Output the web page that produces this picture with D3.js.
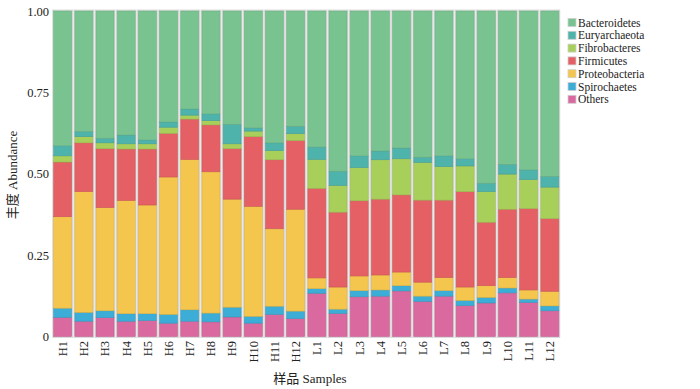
<!DOCTYPE html>
<html>
<head>
<meta charset="utf-8">
<script src="https://cdn.jsdelivr.net/npm/d3@7"></script>
<style>
  body { margin: 0; background: #fff; }
  text { font-family: "Liberation Serif", "Noto Sans CJK SC", serif; fill: #222; }
</style>
</head>
<body>
<script>

// --------------------------------------------------
// Data
// --------------------------------------------------

var samples = ['H1','H2','H3','H4','H5','H6','H7','H8','H9','H10','H11','H12',
               'L1','L2','L3','L4','L5','L6','L7','L8','L9','L10','L11','L12'];

var phyla = ['Bacteroidetes','Euryarchaeota','Fibrobacteres','Firmicutes','Proteobacteria','Spirochaetes','Others'];

var bacteroidetes  = [.414,.370,.391,.381,.396,.341,.301,.316,.348,.359,.405,.354, .418,.492,.445,.430,.421,.449,.445,.454,.529,.471,.488,.508];
var euryarchaeota  = [.031,.016,.014,.027,.012,.016,.019,.021,.060,.010,.024,.023, .038,.044,.036,.027,.033,.016,.033,.022,.026,.030,.030,.033];
var fibrobacteres  = [.019,.019,.018,.016,.016,.019,.012,.013,.015,.017,.028,.021, .089,.082,.102,.121,.111,.116,.103,.079,.094,.108,.089,.097];
var firmicutes     = [.168,.150,.181,.158,.172,.134,.124,.144,.155,.214,.212,.211, .275,.230,.231,.233,.237,.252,.238,.293,.195,.210,.250,.223];
var proteobacteria = [.281,.371,.317,.348,.334,.422,.462,.434,.332,.338,.238,.313, .033,.068,.045,.046,.042,.043,.040,.041,.036,.032,.028,.045];
var spirochaetes   = [.028,.027,.021,.023,.021,.027,.035,.027,.030,.021,.025,.023, .014,.013,.019,.019,.016,.016,.017,.016,.017,.015,.010,.015];
var others         = [.059,.047,.058,.047,.049,.041,.047,.045,.060,.041,.068,.055, .133,.071,.122,.124,.140,.108,.124,.095,.103,.134,.105,.079];

var yTicks = [0, 0.25, 0.5, 0.75, 1];

var colors = ['#79c391','#4db3ab','#a9cf5b','#e46064','#f4c64e','#3badd6','#d9699f'];

// --------------------------------------------------
// Chart
// --------------------------------------------------

var series = [bacteroidetes, euryarchaeota, fibrobacteres, firmicutes, proteobacteria, spirochaetes, others];

var rows = samples.map((s, i) => {
    let r = { sample: s };
    phyla.forEach((p, j) => r[p] = series[j][i]);
    return r;
});

// stack from the bottom: Others first, Bacteroidetes last
var stack = d3.stack().keys(phyla.slice().reverse());
var layers = stack(rows);

var svg = d3.select('body').append('svg')
    .attr('width', 700)
    .attr('height', 389);

var x = d3.scaleBand()
    .domain(samples)
    .range([50.5, 562])
    .paddingInner(0.15)
    .paddingOuter(0.15);

var y = d3.scaleLinear()
    .domain([0, 1])
    .range([336.5, 11]);

var color = d3.scaleOrdinal().domain(phyla).range(colors);

// light grey frame round each bar
svg.append('g').selectAll('rect')
    .data(samples)
    .enter().append('rect')
    .attr('x', d => x(d) - 0.8)
    .attr('y', y(1) - 0.8)
    .attr('width', x.bandwidth() + 1.6)
    .attr('height', y(0) - y(1) + 1.6)
    .attr('fill', 'none')
    .attr('stroke', '#d6d6d6')
    .attr('stroke-width', 1.2);

svg.append('g').selectAll('g')
    .data(layers)
    .enter().append('g')
    .attr('fill', d => color(d.key))
    .attr('stroke', d => d3.color(color(d.key)).darker(0.35))
    .attr('stroke-width', 0.6)
    .selectAll('rect')
    .data(d => d)
    .enter().append('rect')
    .attr('x', d => x(d.data.sample))
    .attr('y', d => y(d[1]))
    .attr('width', x.bandwidth())
    .attr('height', d => y(d[0]) - y(d[1]));

// y axis
var yAxis = svg.append('g')
    .attr('transform', 'translate(51,0)')
    .call(d3.axisLeft(y).tickValues(yTicks).tickSize(0).tickPadding(2)
        .tickFormat(d => d === 0 ? '0' : d3.format('.2f')(d)));
yAxis.select('.domain').remove();
yAxis.selectAll('text')
    .style('font-family', '"Liberation Serif", serif')
    .style('font-size', '12.5px')
    .attr('fill', '#222');

// x axis
var xAxis = svg.append('g')
    .attr('transform', 'translate(0,' + 339 + ')')
    .call(d3.axisBottom(x).tickSize(0).tickPadding(0));
xAxis.select('.domain').remove();
xAxis.selectAll('text')
    .style('font-family', '"Liberation Serif", serif')
    .style('font-size', '12.5px')
    .attr('fill', '#222')
    .style('text-anchor', 'end')
    .attr('dx', '-2')
    .attr('dy', '0.35em')
    .attr('transform', 'rotate(-90)');

// axis titles
svg.append('text')
    .attr('transform', 'translate(17,175) rotate(-90)')
    .attr('text-anchor', 'middle')
    .style('font-size', '13px')
    .text('丰度  Abundance');

svg.append('text')
    .attr('x', 310)
    .attr('y', 383)
    .attr('text-anchor', 'middle')
    .style('font-size', '13px')
    .text('样品  Samples');

// legend
var legend = svg.append('g')
    .attr('transform', 'translate(568,18.5)');

var item = legend.selectAll('g')
    .data(phyla)
    .enter().append('g')
    .attr('transform', (d, i) => 'translate(0,' + (i * 12.8) + ')');

item.append('rect')
    .attr('width', 8)
    .attr('height', 8)
    .attr('fill', d => color(d))
    .attr('stroke', '#cfcfcf')
    .attr('stroke-width', 0.8);

item.append('text')
    .attr('x', 10)
    .attr('y', 4)
    .attr('dy', '0.35em')
    .style('font-size', '11.5px')
    .text(d => d);

</script>
</body>
</html>
